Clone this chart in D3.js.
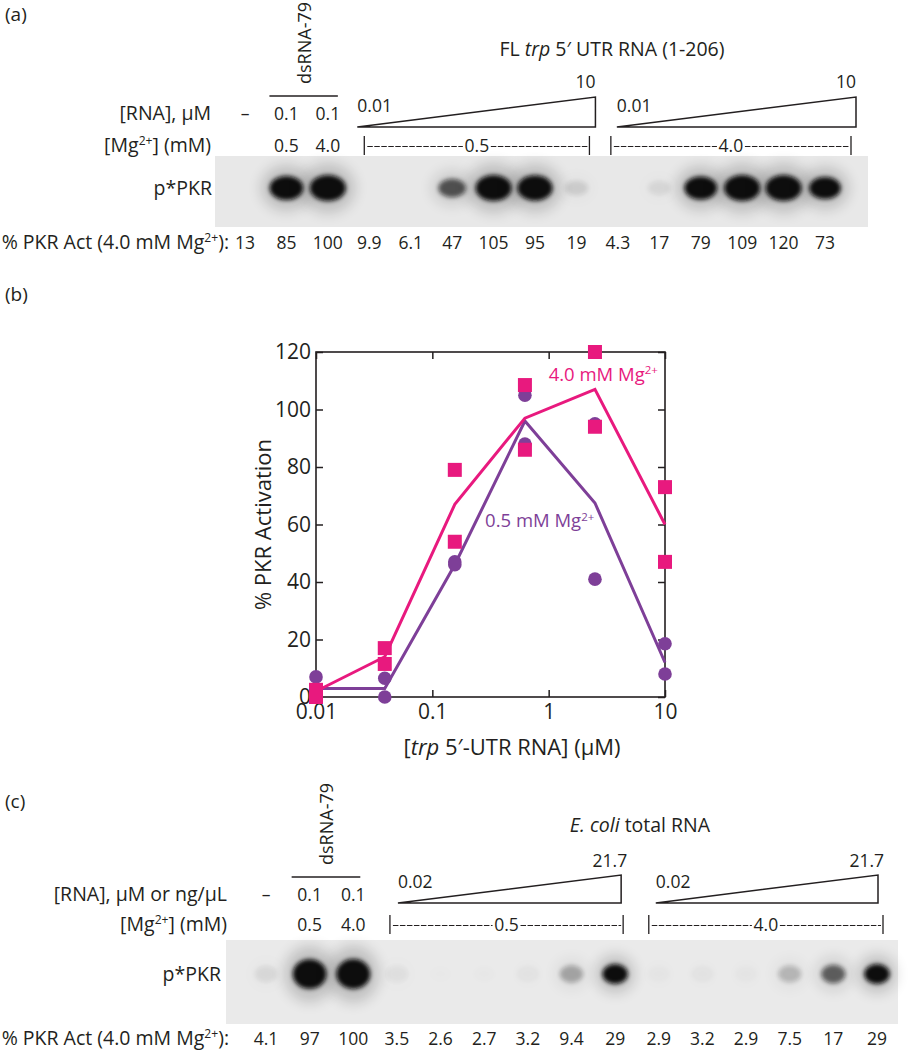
<!DOCTYPE html>
<html>
<head>
<meta charset="utf-8">
<script src="https://cdn.jsdelivr.net/npm/d3@7"></script>
<style>
  html, body { margin: 0; padding: 0; background: #fff; }
  svg { display: block; font-family: "Open Sans", "Noto Sans", sans-serif; }
</style>
</head>
<body>
<svg id="fig" width="916" height="1050"></svg>
<script>
// ---- panel (a) gel ----
const actA = [13, 85, 100, 9.9, 6.1, 47, 105, 95, 19, 4.3, 17, 79, 109, 120, 73];
const actLabelsA = ['13', '85', '100', '9.9', '6.1', '47', '105', '95', '19', '4.3', '17', '79', '109', '120', '73'];
const rnaLabelsA = ['–', '0.1', '0.1'];
const mgLabelsA = ['', '0.5', '4.0'];

// ---- panel (c) gel ----
const actC = [4.1, 97, 100, 3.5, 2.6, 2.7, 3.2, 9.4, 29, 2.9, 3.2, 2.9, 7.5, 17, 29];
const actLabelsC = ['4.1', '97', '100', '3.5', '2.6', '2.7', '3.2', '9.4', '29', '2.9', '3.2', '2.9', '7.5', '17', '29'];
const rnaLabelsC = ['–', '0.1', '0.1'];
const mgLabelsC = ['', '0.5', '4.0'];

// ---- panel (b) titration ----
const conc = [0.01, 0.039, 0.156, 0.625, 2.5, 10];
const mg05Rep1 = [7, 6.5, 47, 105, 95, 18.5];
const mg05Rep2 = [0, 0, 46, 88, 41, 8];
const mg05Fit = [3, 3, 46, 96, 67.5, 12];
const mg40Rep1 = [2.5, 17, 79, 108.5, 120, 73];
const mg40Rep2 = [0, 11.5, 54, 86, 94, 47];
const mg40Fit = [2, 14, 67, 97, 107, 60];
const yTicks = [0, 20, 40, 60, 80, 100, 120];
const xTicks = [0.01, 0.1, 1, 10];

const PINK = '#e8197e';
const PURPLE = '#7e3f98';
const INK = '#231f20';
const WORD = 19.5;   // label text
const NUM = 17.5;    // lane numbers

const svg = d3.select('#fig');
const defs = svg.append('defs');
defs.append('filter').attr('id', 'blur').attr('x', '-50%').attr('y', '-50%').attr('width', '200%').attr('height', '200%')
  .append('feGaussianBlur').attr('stdDeviation', 2.2);
defs.append('filter').attr('id', 'halo').attr('x', '-80%').attr('y', '-80%').attr('width', '260%').attr('height', '260%')
  .append('feGaussianBlur').attr('stdDeviation', 7);

function mgText(sel, pre, post) {
  sel.append('tspan').text(pre + 'Mg');
  sel.append('tspan').attr('font-size', '0.62em').attr('dy', '-0.55em').text('2+');
  sel.append('tspan').attr('dy', '0.34em').text(post);
}

function gelPanel(p) {
  const g = svg.append('g');
  const lane = d3.scalePoint().domain(d3.range(p.act.length)).range(p.laneRange);
  const shade = d3.scaleLinear().domain(p.shadeDomain).range([0, 1]).clamp(true);
  const size = d3.scaleLinear().domain([0, 100]).range([0, 1]).clamp(true);

  g.append('text').attr('x', 5).attr('y', p.tag.y).attr('font-size', 19).attr('fill', INK).text(p.tag.t);

  // title over the titration
  const title = g.append('text').attr('x', p.title.x).attr('y', p.title.y)
      .attr('text-anchor', 'middle').attr('font-size', WORD).attr('fill', INK);
  p.title.parts.forEach(([s, it]) => title.append('tspan').attr('font-style', it ? 'italic' : null).text(s));

  // dsRNA-79 bar and vertical label
  const b0 = lane(1) + p.barPad[0], b1 = lane(2) + p.barPad[1];
  g.append('line').attr('x1', b0).attr('x2', b1).attr('y1', p.barY).attr('y2', p.barY)
      .attr('stroke', INK).attr('stroke-width', 1.6);
  g.append('text').attr('transform', `translate(${(b0 + b1) / 2},${p.barY - 12}) rotate(-90)`)
      .attr('dominant-baseline', 'central').attr('font-size', 18).attr('fill', INK).text('dsRNA-79');

  // row labels
  g.append('text').attr('x', p.rowLabelX).attr('y', p.rnaY).attr('text-anchor', 'end')
      .attr('font-size', WORD).attr('fill', INK).text(p.rnaLabel);
  const mgl = g.append('text').attr('x', p.rowLabelX).attr('y', p.mgY).attr('text-anchor', 'end')
      .attr('font-size', WORD).attr('fill', INK);
  mgText(mgl.append('tspan').text('['), '', '] (mM)');

  p.rna.forEach((t, i) => g.append('text').attr('x', lane(i)).attr('y', p.rnaY)
      .attr('text-anchor', 'middle').attr('font-size', NUM).attr('fill', INK).text(t));
  p.mg.forEach((t, i) => g.append('text').attr('x', lane(i)).attr('y', p.mgY)
      .attr('text-anchor', 'middle').attr('font-size', NUM).attr('fill', INK).text(t));

  // titration groups: wedge + dashed bracket
  p.groups.forEach(gr => {
    const t0 = lane(gr.lanes[0]) + gr.tri[0], t1 = lane(gr.lanes[1]) + gr.tri[1];
    g.append('path').attr('d', `M${t0},${p.triY[1]}L${t1},${p.triY[1]}L${t1},${p.triY[0]}Z`)
        .attr('fill', 'none').attr('stroke', INK).attr('stroke-width', 1.5).attr('stroke-linejoin', 'miter');
    g.append('text').attr('x', t0).attr('y', p.lowY).attr('font-size', NUM).attr('fill', INK).text(p.low);
    g.append('text').attr('x', t1 + p.highDx).attr('y', p.highY).attr('text-anchor', 'end')
        .attr('font-size', NUM).attr('fill', INK).text(p.high);

    const d0 = lane(gr.lanes[0]) + gr.dash[0], d1 = lane(gr.lanes[1]) + gr.dash[1];
    const mid = (d0 + d1) / 2;
    [d0, d1].forEach(x => g.append('line').attr('x1', x).attr('x2', x)
        .attr('y1', p.mgY - 16).attr('y2', p.mgY + 3).attr('stroke', INK).attr('stroke-width', 1.3));
    [[d0 + 3, mid - 14], [mid + 14, d1 - 2]].forEach(([a, b]) => g.append('line')
        .attr('x1', a).attr('x2', b).attr('y1', p.mgY - 5.5).attr('y2', p.mgY - 5.5)
        .attr('stroke', INK).attr('stroke-width', 1.2).attr('stroke-dasharray', '5.5,1.5'));
    g.append('text').attr('x', mid).attr('y', p.mgY).attr('text-anchor', 'middle')
        .attr('font-size', NUM).attr('fill', INK).text(gr.mg);
  });

  // gel image
  g.append('rect').attr('x', p.gel.x0).attr('y', p.gel.y0)
      .attr('width', p.gel.x1 - p.gel.x0).attr('height', p.gel.y1 - p.gel.y0).attr('fill', p.gel.fill);
  const bands = g.append('g');
  p.act.forEach((v, i) => {
    const o = shade(v);
    if (o <= 0) return;
    const rx = p.rx[0] + p.rx[1] * size(v), ry = p.ry[0] + p.ry[1] * size(v);
    bands.append('ellipse').attr('cx', lane(i)).attr('cy', p.bandY).attr('rx', rx * 1.5).attr('ry', ry * 1.9)
        .attr('fill', '#000').attr('opacity', o * 0.18).attr('filter', 'url(#halo)');
    bands.append('ellipse').attr('cx', lane(i)).attr('cy', p.bandY).attr('rx', rx).attr('ry', ry)
        .attr('fill', '#0b0b0b').attr('opacity', o).attr('filter', 'url(#blur)');
  });
  g.append('text').attr('x', p.pkrX).attr('y', p.bandY + 7).attr('text-anchor', 'end')
      .attr('font-size', WORD).attr('fill', INK).text('p*PKR');

  // activity row
  const al = g.append('text').attr('x', p.actLabelX).attr('y', p.actY).attr('text-anchor', 'end')
      .attr('font-size', WORD).attr('fill', INK);
  mgText(al.append('tspan').text('% PKR Act (4.0 mM '), '', '):');
  p.actLabels.forEach((t, i) => g.append('text').attr('x', lane(i)).attr('y', p.actY)
      .attr('text-anchor', 'middle').attr('font-size', NUM).attr('fill', INK).text(t));
}

gelPanel({
  act: actA, actLabels: actLabelsA, rna: rnaLabelsA, mg: mgLabelsA,
  laneRange: [245, 825], shadeDomain: [13.5, 65],
  tag: { t: '(a)', y: 21 },
  title: { x: 612, y: 56, parts: [['FL ', false], ['trp', true], [' 5′ UTR RNA (1-206)', false]] },
  barPad: [-17, 10], barY: 96,
  rowLabelX: 211, rnaLabel: '[RNA], μM', rnaY: 120, mgY: 152,
  low: '0.01', high: '10', lowY: 112, highY: 88, highDx: 0, triY: [97, 127],
  groups: [
    { lanes: [3, 8], tri: [-12, 19], dash: [-5, 13], mg: '0.5' },
    { lanes: [9, 14], tri: [-1, 31], dash: [-7, 26], mg: '4.0' }
  ],
  gel: { x0: 215, x1: 868, y0: 156, y1: 227, fill: '#e8e8e8' },
  bandY: 188, rx: [10, 8], ry: [6, 7], pkrX: 212, actLabelX: 229, actY: 249
});

gelPanel({
  act: actC, actLabels: actLabelsC, rna: rnaLabelsC, mg: mgLabelsC,
  laneRange: [266, 877], shadeDomain: [2.5, 27],
  tag: { t: '(c)', y: 808 },
  title: { x: 640, y: 832, parts: [['E. coli', true], [' total RNA', false]] },
  barPad: [-18, 7], barY: 877,
  rowLabelX: 227, rnaLabel: '[RNA], μM or ng/μL', rnaY: 901, mgY: 931,
  low: '0.02', high: '21.7', lowY: 888, highY: 867, highDx: 6, triY: [875, 903],
  groups: [
    { lanes: [3, 8], tri: [1, 6], dash: [-7, 8], mg: '0.5' },
    { lanes: [9, 14], tri: [-3, 1], dash: [-10, 6], mg: '4.0' }
  ],
  gel: { x0: 226, x1: 898, y0: 940, y1: 1024, fill: '#eaeaea' },
  bandY: 974, rx: [11, 6], ry: [8, 7], pkrX: 221, actLabelX: 229, actY: 1045
});

// ---- panel (b) ----
const pb = svg.append('g');
pb.append('text').attr('x', 5).attr('y', 301).attr('font-size', 19).attr('fill', INK).text('(b)');

const x = d3.scaleLog().domain([0.01, 10]).range([316, 665]);
const y = d3.scaleLinear().domain([0, 120]).range([697, 352]);

const axes = pb.append('g');
axes.append('g').attr('transform', `translate(316,0)`)
    .call(d3.axisLeft(y).tickValues(yTicks).tickSize(-7).tickPadding(5));
axes.append('g').attr('transform', `translate(665,0)`)
    .call(d3.axisRight(y).tickValues(yTicks).tickSize(-7).tickFormat(''));
axes.append('g').attr('transform', `translate(0,697)`)
    .call(d3.axisBottom(x).tickValues(xTicks).tickSize(-7).tickPadding(7).tickFormat(d => d));
axes.append('g').attr('transform', `translate(0,352)`)
    .call(d3.axisTop(x).tickValues(xTicks).tickSize(-7).tickFormat(''));
axes.selectAll('.domain').remove();
axes.selectAll('.tick line').attr('stroke', INK).attr('stroke-width', 1.5);
axes.selectAll('.tick text').attr('font-size', 21).attr('fill', INK).attr('font-family', '"Open Sans", sans-serif');

pb.append('rect').attr('x', 316).attr('y', 352).attr('width', 665 - 316).attr('height', 697 - 352)
    .attr('fill', 'none').attr('stroke', INK).attr('stroke-width', 1.6);

const line = d3.line().x(d => x(d[0])).y(d => y(d[1]));
pb.append('path').datum(d3.zip(conc, mg05Fit)).attr('d', line)
    .attr('fill', 'none').attr('stroke', PURPLE).attr('stroke-width', 3);
pb.append('path').datum(d3.zip(conc, mg40Fit)).attr('d', line)
    .attr('fill', 'none').attr('stroke', PINK).attr('stroke-width', 3);

const circ = d3.zip(conc, mg05Rep1).concat(d3.zip(conc, mg05Rep2));
pb.append('g').selectAll('circle').data(circ).join('circle')
    .attr('cx', d => x(d[0])).attr('cy', d => y(d[1])).attr('r', 6.8).attr('fill', PURPLE);
const sq = d3.zip(conc, mg40Rep1).concat(d3.zip(conc, mg40Rep2));
pb.append('g').selectAll('rect').data(sq).join('rect')
    .attr('x', d => x(d[0]) - 7).attr('y', d => y(d[1]) - 7).attr('width', 14).attr('height', 14).attr('fill', PINK);

mgText(pb.append('text').attr('x', x(1.0)).attr('y', y(110)).attr('font-size', 18.5).attr('fill', PINK), '4.0 mM ', '');
mgText(pb.append('text').attr('x', x(0.284)).attr('y', y(59)).attr('font-size', 18.5).attr('fill', PURPLE), '0.5 mM ', '');

pb.append('text').attr('transform', `translate(262,${(352 + 697) / 2}) rotate(-90)`)
    .attr('text-anchor', 'middle').attr('dominant-baseline', 'central')
    .attr('font-size', 22).attr('fill', INK).text('% PKR Activation');
const xl = pb.append('text').attr('x', 512).attr('y', 755).attr('text-anchor', 'middle')
    .attr('font-size', 22).attr('fill', INK);
xl.append('tspan').text('[');
xl.append('tspan').attr('font-style', 'italic').text('trp');
xl.append('tspan').text(' 5′-UTR RNA] (μM)');
</script>
</body>
</html>
